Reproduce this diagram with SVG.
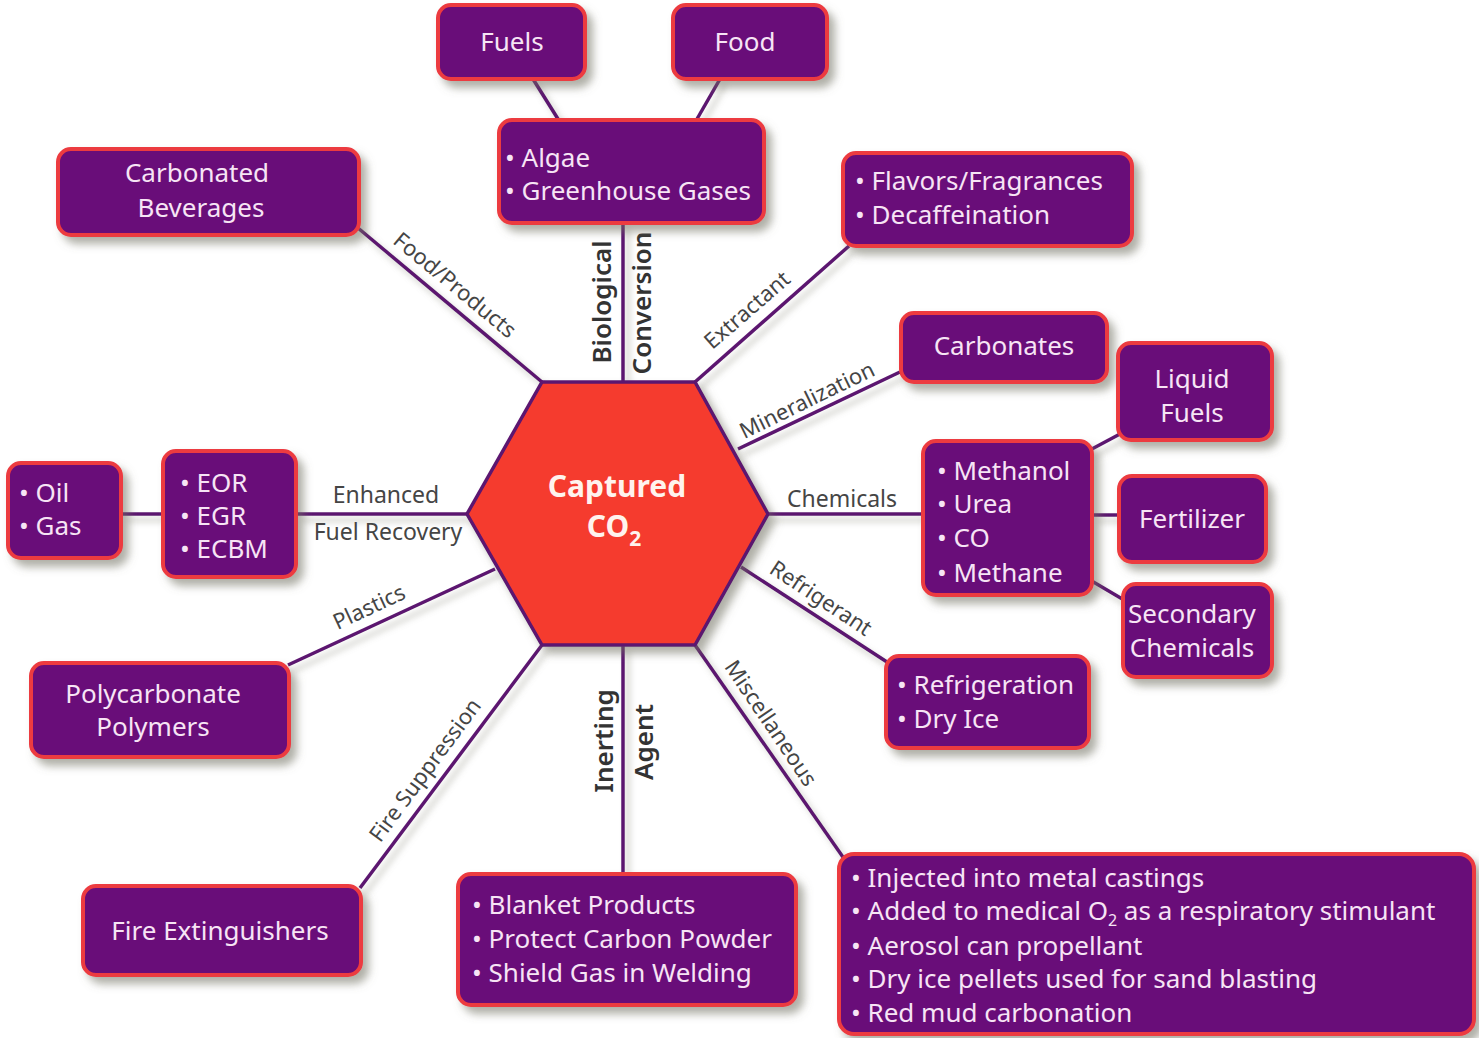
<svg xmlns="http://www.w3.org/2000/svg" width="1479" height="1038" viewBox="0 0 1479 1038">
<defs>
<filter id="sh" x="-20%" y="-20%" width="140%" height="150%">
<feDropShadow dx="6" dy="7" stdDeviation="4" flood-color="#6e6e5e" flood-opacity="0.55"/>
</filter>
<filter id="lsh" x="-20%" y="-20%" width="140%" height="140%">
<feDropShadow dx="5" dy="6" stdDeviation="3" flood-color="#8a8a7a" flood-opacity="0.45"/>
</filter>
<style>
.box{fill:#690b79;stroke:#ec3a40;stroke-width:4;filter:url(#sh)}
.t{font-family:"Noto Sans","Liberation Sans",sans-serif;font-size:26px;fill:#f7e4f5}
.c{text-anchor:middle}
.lab{font-family:"Noto Sans","Liberation Sans",sans-serif;font-size:22px;fill:#454545;text-anchor:middle}
.vl{font-family:"Noto Sans","Liberation Sans",sans-serif;font-size:26px;font-weight:600;fill:#333;text-anchor:middle}
.ln{stroke:#5c1670;stroke-width:3.5;fill:none}
</style>
</defs>
<rect width="1479" height="1038" fill="#ffffff"/>

<g id="connectors" filter="url(#lsh)">
<line class="ln" x1="533" y1="79" x2="558" y2="119"/>
<line class="ln" x1="720" y1="79" x2="697" y2="119"/>
<line class="ln" x1="623" y1="223" x2="623" y2="382"/>
<line class="ln" x1="358" y1="228" x2="542" y2="382"/>
<line class="ln" x1="849" y1="246" x2="695" y2="382"/>
<line class="ln" x1="738" y1="449" x2="900" y2="372"/>
<line class="ln" x1="768" y1="514" x2="922" y2="514"/>
<line class="ln" x1="1090" y1="450" x2="1120" y2="434"/>
<line class="ln" x1="1093" y1="515" x2="1118" y2="515"/>
<line class="ln" x1="1090" y1="580" x2="1124" y2="600"/>
<line class="ln" x1="741" y1="567" x2="887" y2="662"/>
<line class="ln" x1="695" y1="645" x2="845" y2="860"/>
<line class="ln" x1="623" y1="645" x2="623" y2="873"/>
<line class="ln" x1="542" y1="645" x2="360" y2="888"/>
<line class="ln" x1="495" y1="569" x2="288" y2="665"/>
<line class="ln" x1="297" y1="514" x2="467" y2="514"/>
<line class="ln" x1="122" y1="514" x2="162" y2="514"/>
</g>

<g id="connector-labels">
<text class="lab" transform="translate(455,285) rotate(39.6)" dy=".35em">Food/Products</text>
<text class="lab" transform="translate(747,310) rotate(-41)" dy=".35em">Extractant</text>
<text class="lab" transform="translate(807,400) rotate(-26)" dy=".35em">Mineralization</text>
<text class="lab" x="842" y="507" style="font-size:23px">Chemicals</text>
<text class="lab" transform="translate(821,598) rotate(33.5)" dy=".35em">Refrigerant</text>
<text class="lab" transform="translate(771,723) rotate(56)" dy=".35em">Miscellaneous</text>
<text class="lab" transform="translate(369,607) rotate(-25)" dy=".35em">Plastics</text>
<text class="lab" transform="translate(425,770) rotate(-53.5)" dy=".35em">Fire Suppression</text>
<text class="lab" x="386" y="503" style="font-size:23px">Enhanced</text>
<text class="lab" x="388" y="540" style="font-size:23px">Fuel Recovery</text>
<text class="vl" transform="translate(611,302) rotate(-90)">Biological</text>
<text class="vl" transform="translate(651,303) rotate(-90)">Conversion</text>
<text class="vl" transform="translate(613,741) rotate(-90)">Inerting</text>
<text class="vl" transform="translate(653,742) rotate(-90)">Agent</text>
</g>

<g id="hub">
<polygon points="542,382 695,382 768,514 695,645 542,645 467,514" fill="#f53a2f" stroke="#5c1670" stroke-width="3.5" filter="url(#sh)"/>
<text class="t c" x="617" y="497" style="font-size:30px;font-weight:700;fill:#fff3ee">Captured</text>
<text class="t c" x="614" y="537" style="font-size:30px;font-weight:700;fill:#fff3ee">CO<tspan dy="9" font-size="21">2</tspan></text>
</g>

<g id="fuels"><rect class="box" x="438" y="5" width="147" height="74" rx="13"/><text class="t c" x="512" y="51">Fuels</text></g>
<g id="food"><rect class="box" x="673" y="5" width="154" height="74" rx="13"/><text class="t c" x="745" y="51">Food</text></g>
<g id="algae"><rect class="box" x="499" y="120" width="265" height="103" rx="13"/><text class="t" x="505" y="167">• Algae</text><text class="t" x="505" y="200">• Greenhouse Gases</text></g>
<g id="carbonated-beverages"><rect class="box" x="58" y="149" width="301" height="86" rx="13"/><text class="t c" x="197" y="182">Carbonated</text><text class="t c" x="201" y="217">Beverages</text></g>
<g id="extractant"><rect class="box" x="843" y="153" width="289" height="93" rx="13"/><text class="t" x="855" y="190">• Flavors/Fragrances</text><text class="t" x="855" y="224">• Decaffeination</text></g>
<g id="carbonates"><rect class="box" x="901" y="313" width="206" height="69" rx="13"/><text class="t c" x="1004" y="355">Carbonates</text></g>
<g id="liquid-fuels"><rect class="box" x="1118" y="343" width="154" height="97" rx="13"/><text class="t c" x="1192" y="388">Liquid</text><text class="t c" x="1192" y="422">Fuels</text></g>
<g id="chemicals"><rect class="box" x="923" y="441" width="169" height="154" rx="13"/><text class="t" x="937" y="480">• Methanol</text><text class="t" x="937" y="513">• Urea</text><text class="t" x="937" y="547">• CO</text><text class="t" x="937" y="582">• Methane</text></g>
<g id="fertilizer"><rect class="box" x="1119" y="476" width="147" height="86" rx="13"/><text class="t c" x="1192" y="528">Fertilizer</text></g>
<g id="secondary-chemicals"><rect class="box" x="1123" y="584" width="149" height="93" rx="13"/><text class="t c" x="1192" y="623">Secondary</text><text class="t c" x="1192" y="657">Chemicals</text></g>
<g id="refrigeration"><rect class="box" x="886" y="656" width="203" height="92" rx="13"/><text class="t" x="897" y="694">• Refrigeration</text><text class="t" x="897" y="728">• Dry Ice</text></g>
<g id="miscellaneous"><rect class="box" x="839" y="854" width="635" height="180" rx="15"/>
<text class="t" x="851" y="887">• Injected into metal castings</text>
<text class="t" x="851" y="920">• Added to medical O<tspan dy="6" font-size="16">2</tspan><tspan dy="-6"> as a respiratory stimulant</tspan></text>
<text class="t" x="851" y="955">• Aerosol can propellant</text>
<text class="t" x="851" y="988">• Dry ice pellets used for sand blasting</text>
<text class="t" x="851" y="1022">• Red mud carbonation</text></g>
<g id="inerting-agent"><rect class="box" x="458" y="874" width="338" height="131" rx="13"/><text class="t" x="472" y="914">• Blanket Products</text><text class="t" x="472" y="948">• Protect Carbon Powder</text><text class="t" x="472" y="982">• Shield Gas in Welding</text></g>
<g id="fire-extinguishers"><rect class="box" x="83" y="886" width="278" height="89" rx="13"/><text class="t c" x="220" y="940">Fire Extinguishers</text></g>
<g id="polycarbonate-polymers"><rect class="box" x="31" y="663" width="258" height="94" rx="13"/><text class="t c" x="153" y="703">Polycarbonate</text><text class="t c" x="153" y="736">Polymers</text></g>
<g id="eor"><rect class="box" x="163" y="451" width="133" height="126" rx="13"/><text class="t" x="180" y="492">• EOR</text><text class="t" x="180" y="525">• EGR</text><text class="t" x="180" y="558">• ECBM</text></g>
<g id="oil-gas"><rect class="box" x="8" y="463" width="113" height="95" rx="13"/><text class="t" x="19" y="502">• Oil</text><text class="t" x="19" y="535">• Gas</text></g>
</svg>
